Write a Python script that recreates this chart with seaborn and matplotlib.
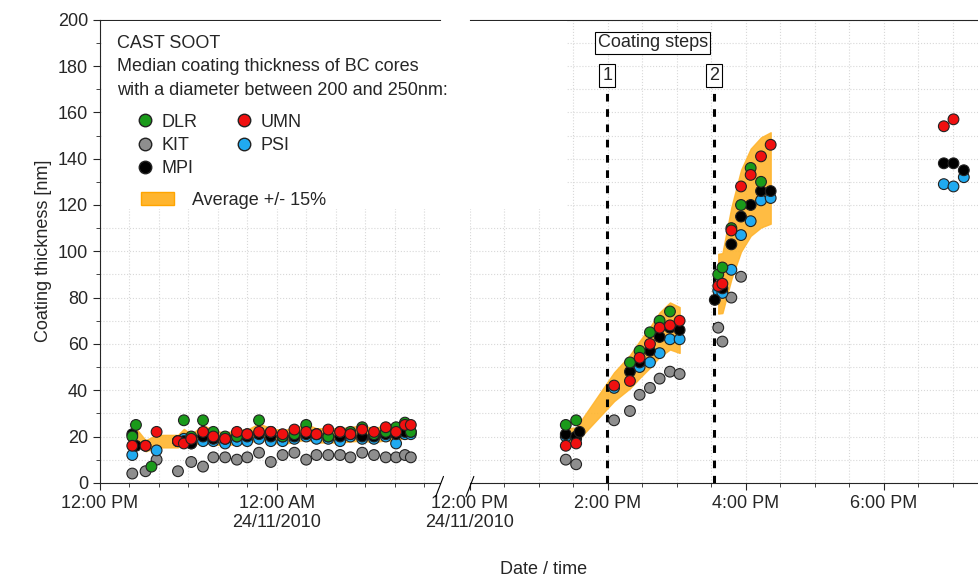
import numpy as np
import pandas as pd
import matplotlib
matplotlib.use("Agg")
import matplotlib.pyplot as plt
import seaborn as sns
from matplotlib.patches import Patch, Rectangle
from matplotlib.lines import Line2D

nan = np.nan
# left panel: hours after 12:00 PM 23/11/2010
left_t = [2.2, 2.45, 3.1, 3.5, 3.85, 5.3, 5.7, 6.2, 7.0, 7.7, 8.5, 9.3, 10.0, 10.8, 11.6, 12.4, 13.2, 14.0,
          14.7, 15.5, 16.3, 17.0, 17.8, 18.6, 19.4, 20.1, 20.7, 21.1]
left_dlr = [20, 25, nan, 7, nan, 18, 27, 20, 27, 22, 20, 20, 21, 27, 22, 20, 21, 25, 21, 20, 22, 22, 24, 21, 22, 24, 26, 22]
left_umn = [16, nan, 16, nan, 22, 18, 17, 19, 22, 20, 19, 22, 21, 22, 22, 21, 23, 22, 21, 23, 22, 21, 23, 22, 24, 22, 25, 25]
left_mpi = [21, 16, nan, nan, nan, 18, 18, 17, 20, 19, 19, 20, 20, 21, 20, 20, 20, 21, 21, 20, 20, 21, 20, 20, 21, 21, 22, 22]
left_psi = [12, nan, 16, nan, 14, 18, 19, 17, 18, 18, 17, 18, 18, 19, 18, 18, 19, 20, 19, 19, 18, 20, 19, 19, 20, 17, 21, 21]
left_kit = [4, nan, 5, nan, 10, 5, nan, 9, 7, 11, 11, 10, 11, 13, 9, 12, 13, 10, 12, 12, 12, 11, 13, 12, 11, 11, 12, 11]

# right panel: hours after 12:00 PM 24/11/2010
right_t = [1.39, 1.54, 1.59, 2.09, 2.32, 2.46, 2.61, 2.75, 2.90, 3.04,
           3.55, 3.60, 3.66, 3.79, 3.93, 4.07, 4.22, 4.36, 6.87, 7.01, 7.16]
right_dlr = [25, 27, nan, nan, 52, 57, 65, 70, 74, nan, nan, 90, 93, 110, 120, 136, 130, nan, nan, nan, nan]
right_umn = [16, 17, nan, 42, 44, 54, 60, 67, 68, 70, nan, 85, 86, 109, 128, 133, 141, 146, 154, 157, nan]
right_mpi = [21, 20, 22, nan, 48, 52, 57, 63, 67, 66, 79, nan, 84, 103, 115, 120, 126, 126, 138, 138, 135]
right_psi = [20, 19, nan, 41, nan, 50, 52, 56, 62, 62, nan, 83, 82, 92, 107, 113, 122, 123, 129, 128, 132]
right_kit = [10, 8, nan, 27, 31, 38, 41, 45, 48, 47, nan, 67, 61, 80, 89, nan, nan, nan, nan, nan, nan]

names = ["KIT", "PSI", "MPI", "DLR", "UMN"]  # drawing order
colors = {"DLR": "#1a9a1a", "UMN": "#f01010", "KIT": "#8e8e8e", "PSI": "#20aaf0", "MPI": "#000000"}
band_color = "#ffb52e"


def long_df(t, series):
    rows = []
    for n, vals in zip(names, series):
        for ti, v in zip(t, vals):
            if not np.isnan(v):
                rows.append({"t": ti, "v": v, "inst": n})
    return pd.DataFrame(rows)


def draw_band(ax, t, series, sl):
    arr = np.array(series, dtype=float)[:, sl]  # without KIT
    tt = np.array(t)[sl]
    cnt = np.sum(~np.isnan(arr), axis=0)
    ok = cnt >= 2
    avg = np.nanmean(np.where(ok, arr, 0) if False else arr[:, ok], axis=0)
    ax.fill_between(tt[ok], avg * 0.85, avg * 1.15, color=band_color, alpha=0.9, lw=1, zorder=1)


sns.set_style("white")
plt.rcParams["font.family"] = ["Liberation Sans", "DejaVu Sans"]
fig = plt.figure(figsize=(9.79, 5.81), dpi=100)
axl = fig.add_axes([0.102, 0.169, 0.347, 0.797])
axr = fig.add_axes([0.480, 0.169, 0.520, 0.797], sharey=axl)

draw_band(axl, left_t, [left_dlr, left_umn, left_mpi, left_psi], slice(0, len(left_t)))
draw_band(axr, right_t, [right_dlr, right_umn, right_mpi, right_psi], slice(0, 10))
draw_band(axr, right_t, [right_dlr, right_umn, right_mpi, right_psi], slice(10, 18))

for ax, t, series in [(axl, left_t, [left_kit, left_psi, left_mpi, left_dlr, left_umn]),
                      (axr, right_t, [right_kit, right_psi, right_mpi, right_dlr, right_umn])]:
    df = long_df(t, series)
    sns.scatterplot(data=df, x="t", y="v", hue="inst", palette=colors, s=60, edgecolor="#222222",
                    linewidth=0.8, ax=ax, legend=False, zorder=3)
    ax.set_xlabel("")
    ax.set_ylabel("")
    ax.grid(True, which="both", color="#d8d8d8", linestyle=":", linewidth=0.8)
    ax.spines["right"].set_visible(False)
    ax.tick_params(direction="out", length=5, labelsize=13, bottom=True, left=(ax is axl))

axl.set_xlim(0, 23.05)
axl.set_xticks([0, 12])
axl.set_xticks(np.arange(0, 23, 2), minor=True)
axl.set_xticklabels(["12:00 PM", "12:00 AM\n24/11/2010"])
axr.set_xlim(0, 7.38)
axr.set_xticks([0, 2, 4, 6])
axr.set_xticks(np.arange(0, 7.4, 0.5), minor=True)
axr.set_xticklabels(["12:00 PM\n24/11/2010", "2:00 PM", "4:00 PM", "6:00 PM"])
axr.spines["left"].set_visible(False)
axr.tick_params(labelleft=False)
for ax in (axl, axr):
    ax.tick_params(which="minor", direction="out", length=3, bottom=True)
axl.set_ylim(0, 200)
axl.set_yticks(np.arange(0, 201, 20))
axl.set_yticks(np.arange(0, 201, 10), minor=True)
axl.tick_params(which="minor", left=True)
axl.set_ylabel("Coating thickness [nm]", fontsize=13)
fig.text(0.555, 0.012, "Date / time", ha="center", fontsize=13)

# axis break marks
for xb in (0.449, 0.480):
    fig.add_artist(Line2D([xb - 0.004, xb + 0.004], [0.145, 0.18], color="black", lw=0.8))

# coating steps
for xs, lab in [(1.99, "1"), (3.54, "2")]:
    axr.axvline(xs, ymax=0.85, color="black", ls=(0, (2.5, 2.5)), lw=2.2, zorder=2)
    axr.text(xs, 176, lab, ha="center", va="center", fontsize=13,
             bbox=dict(boxstyle="square,pad=0.15", fc="white", ec="black", lw=0.8))
axr.text(2.65, 190, "Coating steps", ha="center", va="center", fontsize=13,
         bbox=dict(boxstyle="square,pad=0.15", fc="white", ec="black", lw=0.8))

# white background behind legend
fig.add_artist(Rectangle((0.104, 0.64), 0.475, 0.323, transform=fig.transFigure, fc="white", ec="none", zorder=1))

# legend text and symbols
fig.text(0.12, 0.925, "CAST SOOT", fontsize=13, va="center", zorder=2)
fig.text(0.12, 0.885, "Median coating thickness of BC cores", fontsize=13, va="center", zorder=2)
fig.text(0.12, 0.845, "with a diameter between 200 and 250nm:", fontsize=13, va="center", zorder=2)
handles = [Line2D([], [], ls="", marker="o", ms=9, mfc=colors[n], mec="#222222", label=n)
           for n in ["DLR", "KIT", "MPI", "UMN", "PSI"]]
lg1 = fig.legend(handles=handles, ncol=2, loc="upper left", bbox_to_anchor=(0.128, 0.82), frameon=False,
                 fontsize=13, handletextpad=0.3, columnspacing=2.0, labelspacing=0.35, borderpad=0,
                 handlelength=1.2)
lg1.set_zorder(3)
lg2 = fig.legend(handles=[Patch(fc=band_color, ec="orange", label=" Average +/- 15%")], loc="upper left",
                 bbox_to_anchor=(0.135, 0.685), frameon=False, fontsize=13, borderpad=0, handlelength=1.8)
lg2.set_zorder(3)

fig.savefig("out.png", dpi=100)
